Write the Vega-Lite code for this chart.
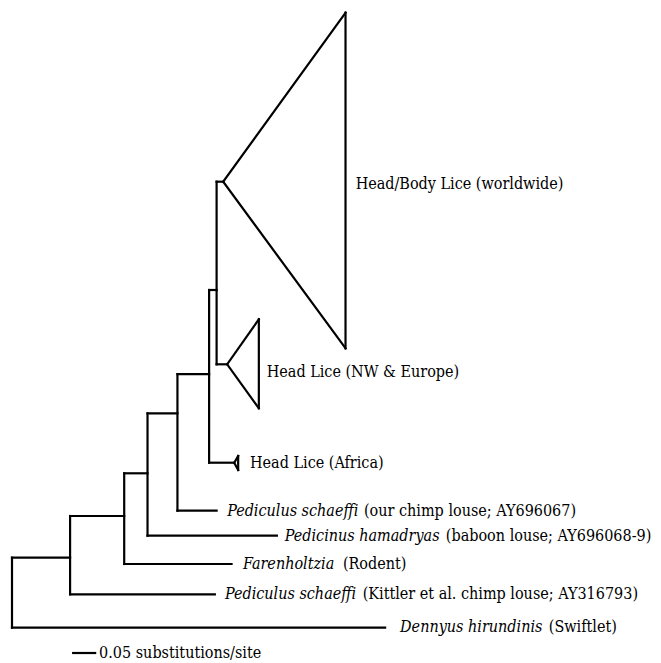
{
  "$schema": "https://vega.github.io/schema/vega-lite/v6.json",
  "width": 661,
  "height": 663,
  "padding": 0,
  "autosize": {"type": "none"},
  "background": "white",
  "config": {"view": {"stroke": null}},
  "datasets": {
    "edges": [
      {"x": 0, "y": 627.7, "x2": 0.848, "y2": 627.7},
      {"x": 0, "y": 557.7, "x2": 0, "y2": 627.7},
      {"x": 0, "y": 557.7, "x2": 0.132, "y2": 557.7},
      {"x": 0.132, "y": 516, "x2": 0.132, "y2": 594.3},
      {"x": 0.132, "y": 594.3, "x2": 0.461, "y2": 594.3},
      {"x": 0.132, "y": 516, "x2": 0.255, "y2": 516},
      {"x": 0.255, "y": 473.3, "x2": 0.255, "y2": 564},
      {"x": 0.255, "y": 564, "x2": 0.499, "y2": 564},
      {"x": 0.255, "y": 473.3, "x2": 0.308, "y2": 473.3},
      {"x": 0.308, "y": 413.3, "x2": 0.308, "y2": 535.7},
      {"x": 0.308, "y": 535.7, "x2": 0.602, "y2": 535.7},
      {"x": 0.308, "y": 413.3, "x2": 0.376, "y2": 413.3},
      {"x": 0.376, "y": 374.2, "x2": 0.376, "y2": 510.7},
      {"x": 0.376, "y": 510.7, "x2": 0.465, "y2": 510.7},
      {"x": 0.376, "y": 374.2, "x2": 0.448, "y2": 374.2},
      {"x": 0.448, "y": 290, "x2": 0.448, "y2": 462.7},
      {"x": 0.448, "y": 462.7, "x2": 0.505, "y2": 462.7},
      {"x": 0.448, "y": 290, "x2": 0.465, "y2": 290},
      {"x": 0.465, "y": 181.7, "x2": 0.465, "y2": 364.3},
      {"x": 0.465, "y": 181.7, "x2": 0.48, "y2": 181.7},
      {"x": 0.465, "y": 364.3, "x2": 0.489, "y2": 364.3},
      {"x": 0.48, "y": 181.7, "x2": 0.758, "y2": 12.7},
      {"x": 0.48, "y": 181.7, "x2": 0.758, "y2": 348.3},
      {"x": 0.758, "y": 12.7, "x2": 0.758, "y2": 348.3},
      {"x": 0.489, "y": 364.3, "x2": 0.561, "y2": 319.3},
      {"x": 0.489, "y": 364.3, "x2": 0.561, "y2": 408.3},
      {"x": 0.561, "y": 319.3, "x2": 0.561, "y2": 408.3},
      {"x": 0.505, "y": 462.7, "x2": 0.514, "y2": 456},
      {"x": 0.505, "y": 462.7, "x2": 0.514, "y2": 470},
      {"x": 0.514, "y": 456, "x2": 0.514, "y2": 470},
      {"x": 0.139, "y": 653, "x2": 0.189, "y2": 653}
    ],
    "plain": [
      {"x": 0.781, "y": 184.3, "t": "Head/Body Lice (worldwide)"},
      {"x": 0.579, "y": 371.7, "t": "Head Lice (NW & Europe)"},
      {"x": 0.541, "y": 463.3, "t": "Head Lice (Africa)"},
      {"x": 0.800, "y": 510.7, "t": "(our chimp louse; AY696067)"},
      {"x": 0.986, "y": 535.7, "t": "(baboon louse; AY696068-9)"},
      {"x": 0.752, "y": 563.5, "t": "(Rodent)"},
      {"x": 0.797, "y": 594.3, "t": "(Kittler et al. chimp louse; AY316793)"},
      {"x": 1.220, "y": 627.2, "t": "(Swiftlet)"},
      {"x": 0.198, "y": 653, "t": "0.05 substitutions/site"}
    ],
    "italic": [
      {"x": 0.489, "y": 510.7, "t": "Pediculus schaeffi"},
      {"x": 0.62, "y": 535.7, "t": "Pedicinus hamadryas"},
      {"x": 0.525, "y": 563.5, "t": "Farenholtzia"},
      {"x": 0.484, "y": 594.3, "t": "Pediculus schaeffi"},
      {"x": 0.882, "y": 627.2, "t": "Dennyus hirundinis"}
    ]
  },
  "layer": [
    {
      "data": {"name": "edges"},
      "mark": {"type": "rule", "color": "black", "strokeWidth": 2.2, "strokeCap": "square"},
      "encoding": {
        "x": {"field": "x", "type": "quantitative", "scale": {"domain": [-0.027273, 1.475], "nice": false, "zero": false}, "axis": null},
        "x2": {"field": "x2"},
        "y": {"field": "y", "type": "quantitative", "scale": {"domain": [0, 663], "reverse": true, "nice": false, "zero": false}, "axis": null},
        "y2": {"field": "y2"}
      }
    },
    {
      "data": {"name": "plain"},
      "mark": {"type": "text", "align": "left", "baseline": "middle", "font": "DejaVu Serif Condensed", "fontSize": 16, "color": "black"},
      "encoding": {
        "x": {"field": "x", "type": "quantitative"},
        "y": {"field": "y", "type": "quantitative"},
        "text": {"field": "t"}
      }
    },
    {
      "data": {"name": "italic"},
      "mark": {"type": "text", "align": "left", "baseline": "middle", "font": "DejaVu Serif Condensed", "fontStyle": "italic", "fontSize": 16, "color": "black"},
      "encoding": {
        "x": {"field": "x", "type": "quantitative"},
        "y": {"field": "y", "type": "quantitative"},
        "text": {"field": "t"}
      }
    }
  ]
}
